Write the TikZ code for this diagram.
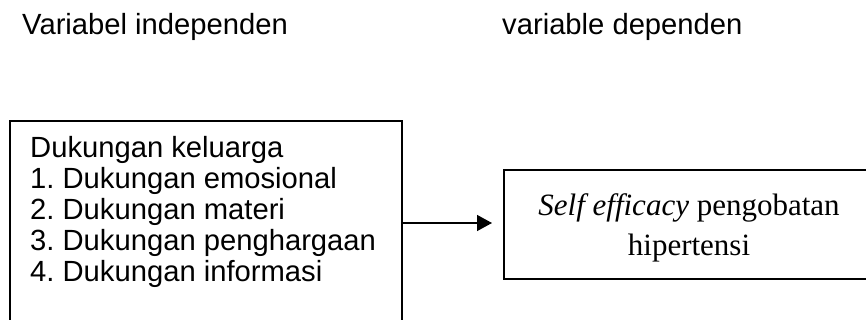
\documentclass[tikz,border=0pt]{standalone}
\usepackage{fontspec}
\setmainfont{Liberation Serif}
\setsansfont{Liberation Sans}
\usetikzlibrary{arrows.meta}
\frenchspacing

\tikzset{
  judul/.style = {anchor=base west, inner sep=0pt,
    font=\sffamily\fontsize{29.2}{31}\selectfont},
  kotak/.style = {draw, line width=2pt, inner sep=0pt},
  panah/.style = {line width=1.4pt, -{Triangle[length=15pt,width=16pt]}}
}

\begin{document}
\begin{tikzpicture}[x=1pt,y=-1pt]
  \useasboundingbox (0,0) rectangle (866,320);
  \clip (0,0) rectangle (866,320);
  \fill[white] (0,0) rectangle (866,320);
  % judul kolom
  \node[judul] (judulindep) at (22,35) {Variabel independen};
  \node[judul] (juduldep) at (502,35) {variable dependen};
  % kotak kiri
  \node[kotak, anchor=north west, minimum width=392pt, minimum height=204pt] (indep) at (9,120) {};
  \node[anchor=north west, inner sep=0pt, align=left,
    font=\sffamily\fontsize{29.2}{31}\selectfont] (isi) at (30,136) {Dukungan keluarga\\
    1. Dukungan emosional\\
    2. Dukungan materi\\
    3. Dukungan penghargaan\\
    4. Dukungan informasi};
  % kotak kanan
  \node[kotak, anchor=west, minimum width=370pt, minimum height=109pt, align=center,
    text depth=0pt, font=\fontsize{31}{40}\selectfont] (dep) at (503,224.5)
    {\textit{Self efficacy} pengobatan\\hipertensi};
  \draw[panah, shorten >=11pt] (indep.east) -- (indep.east -| dep.west);
\end{tikzpicture}
\end{document}
